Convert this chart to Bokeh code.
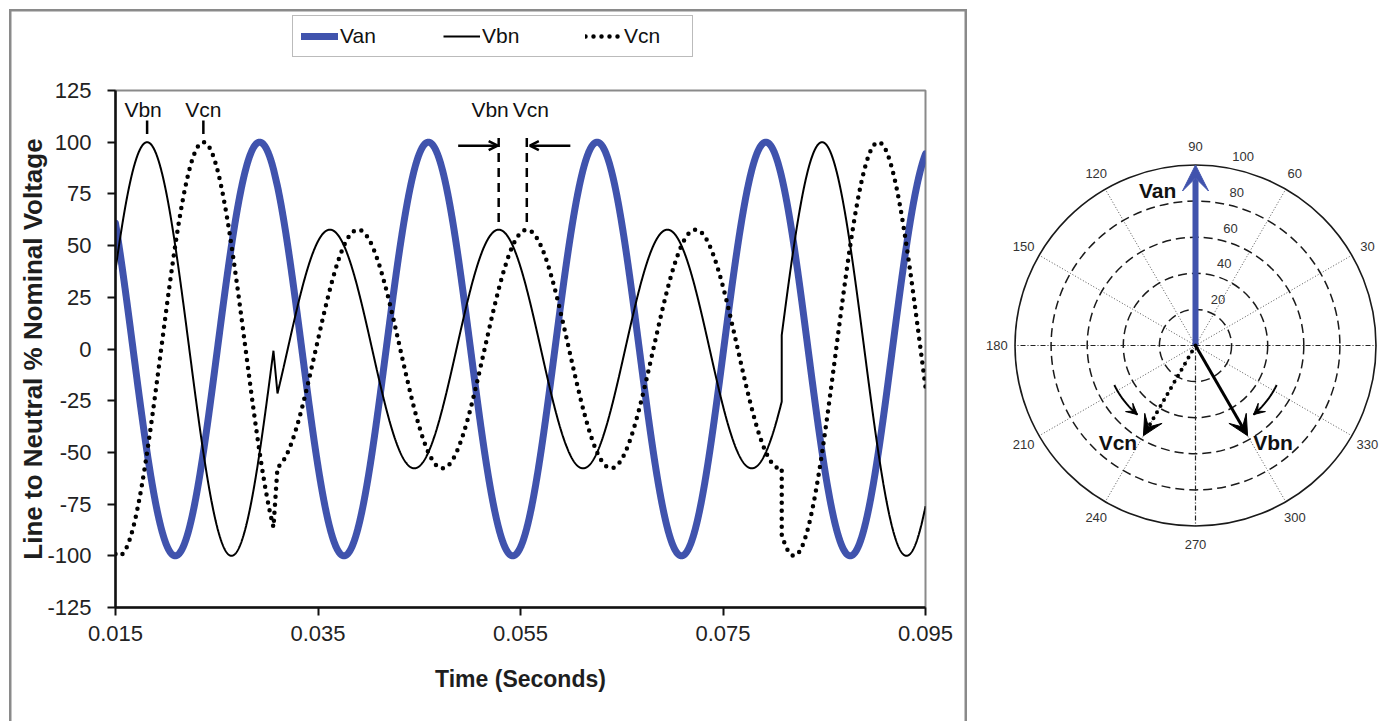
import numpy as np
from bokeh.plotting import figure
from bokeh.layouts import row, column
from bokeh.models import (Range1d, FixedTicker, PrintfTickFormatter, Legend, LegendItem,
                          Arrow, OpenHead, VeeHead)
from bokeh.core.properties import value
from bokeh.embed import file_html
from bokeh.resources import INLINE

# ---------------- data ----------------
phases = ["Van", "Vbn", "Vcn"]
prefault_mag = [100.0, 100.0, 100.0]     # % of nominal
prefault_ang = [90.0, 330.0, 210.0]      # phasor angle, degrees
fault_mag = [100.0, 57.7, 57.7]
fault_ang = [90.0, 300.0, 240.0]
freq_hz = 60.0
angle_ref_time = 0.0334                  # s, instant at which the phasor angles hold
fault_start = 0.0306                     # s, last pre-fault instant
fault_settle = 0.0310                    # s, first instant on the faulted wave
fault_clear = 0.0808                     # s, fault cleared, voltages recover
time_ticks = [0.015, 0.035, 0.055, 0.075, 0.095]
volt_ticks = [-125, -100, -75, -50, -25, 0, 25, 50, 75, 100, 125]
ring_values = [20, 40, 60, 80, 100]
spoke_angles = [0, 30, 60, 90, 120, 150, 180, 210, 240, 270, 300, 330]
angle_labels = [30, 60, 90, 120, 150, 180, 210, 240, 270, 300, 330]

t_min, t_max = 0.015, 0.095
BLUE = "#4053ad"
FONT = "Liberation Sans"


def wave(mag, ang, t):
    return mag * np.cos(2 * np.pi * freq_hz * (t - angle_ref_time) + np.deg2rad(ang))


def phase_series(i):
    t1 = np.linspace(t_min, fault_start, 800)
    t2 = np.linspace(fault_settle, fault_clear, 2500)
    t3 = np.linspace(fault_clear, t_max, 800)
    y1 = wave(prefault_mag[i], prefault_ang[i], t1)
    y2 = wave(fault_mag[i], fault_ang[i], t2)
    y3 = wave(prefault_mag[i], prefault_ang[i], t3)
    return np.concatenate([t1, t2, t3]), np.concatenate([y1, y2, y3])


def peak_after(ang, t0):
    period = 1.0 / freq_hz
    tp = angle_ref_time - ang / 360.0 * period
    while tp < t0:
        tp += period
    while tp - period >= t0:
        tp -= period
    return tp


series = [phase_series(i) for i in range(3)]
line_styles = [dict(line_color=BLUE, line_width=7, line_cap="round", line_join="round"),
               dict(line_color="black", line_width=2),
               dict(line_color="black", line_width=4.5, line_dash="0 8", line_cap="round")]

# ---------------- legend strip above the waveform chart ----------------
lf = figure(width=967, height=60, x_range=Range1d(1, 2), y_range=Range1d(1, 2),
            output_backend="svg", toolbar_location=None, min_border=0,
            x_axis_location=None, y_axis_location=None, frame_align=False)
lf.grid.visible = False
lf.outline_line_color = None
lf.background_fill_color = None
lf.border_fill_color = None
proxies = [lf.line(series[i][0], series[i][1], **line_styles[i]) for i in range(3)]
legend = Legend(items=[LegendItem(label=phases[i], renderers=[proxies[i]]) for i in range(3)],
                orientation="horizontal", location=(292, 3), margin=0, padding=8,
                glyph_width=37, glyph_height=20, label_standoff=2, label_width=60, spacing=43,
                label_text_font=FONT, label_text_font_size="21px", label_text_color="#111111",
                border_line_color="#777777", border_line_width=1.5,
                background_fill_color="white", background_fill_alpha=1.0)
lf.add_layout(legend, "center")

# ---------------- waveform chart ----------------
p = figure(width=967, height=661, x_range=Range1d(t_min, t_max), y_range=Range1d(-125, 125),
           output_backend="svg", toolbar_location=None,
           min_border_left=115, min_border_right=42, min_border_top=30, min_border_bottom=114,
           frame_align=False)
p.background_fill_color = "white"
p.border_fill_color = None
p.outline_line_color = "#8a8a8a"
p.outline_line_width = 2
p.grid.visible = False

p.xaxis.ticker = FixedTicker(ticks=time_ticks)
p.xaxis.formatter = PrintfTickFormatter(format="%.3f")
p.yaxis.ticker = FixedTicker(ticks=volt_ticks)
p.yaxis.formatter = PrintfTickFormatter(format="%d")
for ax in (p.xaxis, p.yaxis):
    ax.axis_line_width = 2.5
    ax.axis_line_color = "#111111"
    ax.major_tick_line_width = 2
    ax.major_tick_line_color = "#111111"
    ax.major_tick_in = 0
    ax.major_tick_out = 8
    ax.minor_tick_line_color = None
    ax.major_label_text_font = FONT
    ax.major_label_text_font_size = "22px"
    ax.major_label_text_color = "#222222"
    ax.axis_label_text_font = FONT
    ax.axis_label_text_font_style = "bold"
    ax.axis_label_text_color = "#1e1e1e"
p.yaxis.major_label_standoff = 16
p.xaxis.major_label_standoff = 10
p.yaxis.axis_label = "Line to Neutral % Nominal Voltage"
p.yaxis.axis_label_text_font_size = "26px"
p.yaxis.axis_label_standoff = -4
p.xaxis.axis_label = "Time (Seconds)"
p.xaxis.axis_label_text_font_size = "23px"
p.xaxis.axis_label_standoff = 22

for i in range(3):
    p.line(series[i][0], series[i][1], **line_styles[i])

TXT = dict(text_font_size="21px", text_font=value(FONT), text_color="#111111",
           text_baseline="middle")

# peak markers before the fault
pb0 = peak_after(prefault_ang[1], t_min)
pc0 = peak_after(prefault_ang[2], t_min)
p.segment(x0=[pb0, pc0], y0=[104, 104], x1=[pb0, pc0], y1=[110.5, 110.5],
          line_color="black", line_width=2.5)
p.text(x=[pb0 - 0.0004, pc0], y=[116, 116], text=[phases[1], phases[2]], text_align="center", **TXT)

# peak markers during the fault
pb1 = peak_after(fault_ang[1], 0.050)
pc1 = peak_after(fault_ang[2], 0.050)
p.segment(x0=[pb1, pc1], y0=[102, 102], x1=[pb1, pc1], y1=[60, 60],
          line_color="black", line_width=2.5, line_dash="9 6")
p.text(x=[pb1 + 0.001], y=[116], text=[phases[1]], text_align="right", **TXT)
p.text(x=[pc1 - 0.0014], y=[116], text=[phases[2]], text_align="left", **TXT)
p.add_layout(Arrow(x_start=pb1 - 0.0040, y_start=98.3, x_end=pb1 - 0.0001, y_end=98.3,
                   line_width=2.5, end=OpenHead(size=9, line_width=2.5)))
p.add_layout(Arrow(x_start=pc1 + 0.0043, y_start=98.3, x_end=pc1 + 0.0003, y_end=98.3,
                   line_width=2.5, end=OpenHead(size=9, line_width=2.5)))

frame_shadow = ("inset 9px 9px 0 0 #ffffff, inset 11.5px 11.5px 0 0 #8a8a8a, "
                "inset -2.5px 0 0 0 #8a8a8a")
left_block = column(lf, p, styles={"box-shadow": frame_shadow})

# ---------------- phasor diagram ----------------
PX = 1.805   # pixels per percent in the phasor diagram
pp = figure(width=416, height=721,
            x_range=Range1d(-228 / PX, 188 / PX), y_range=Range1d(-262 / PX, 255 / PX),
            output_backend="svg", toolbar_location=None,
            min_border_left=0, min_border_right=0, min_border_top=90, min_border_bottom=114,
            x_axis_location=None, y_axis_location=None, frame_align=False)
pp.grid.visible = False
pp.outline_line_color = None
pp.background_fill_color = "white"
pp.border_fill_color = "white"

sa = np.deg2rad(spoke_angles)
main = [a % 90 == 0 for a in spoke_angles]
rmax = ring_values[-1]
pp.segment(x0=[0] * sum(not m for m in main), y0=[0] * sum(not m for m in main),
           x1=[rmax * np.cos(a) for a, m in zip(sa, main) if not m],
           y1=[rmax * np.sin(a) for a, m in zip(sa, main) if not m],
           line_color="#555555", line_width=1, line_dash="1 2")
pp.segment(x0=[0] * sum(main), y0=[0] * sum(main),
           x1=[rmax * np.cos(a) for a, m in zip(sa, main) if m],
           y1=[rmax * np.sin(a) for a, m in zip(sa, main) if m],
           line_color="#222222", line_width=1.2, line_dash="5 2 1 2")
pp.circle(x=[0] * (len(ring_values) - 1), y=[0] * (len(ring_values) - 1), radius=ring_values[:-1],
          fill_color=None, line_color="#1a1a1a", line_width=1.5, line_dash="9 5")
pp.circle(x=[0], y=[0], radius=[rmax], fill_color=None, line_color="#1a1a1a", line_width=1.6)

la = np.deg2rad(angle_labels)
pp.text(x=list(1.10 * rmax * np.cos(la)), y=list(1.10 * rmax * np.sin(la)),
        text=[str(a) for a in angle_labels], text_align="center", text_baseline="middle",
        text_font_size="13px", text_font=value(FONT), text_color="#333333")
ra = np.deg2rad(80)
pp.text(x=[v * np.cos(ra) + 9 for v in ring_values], y=[v * np.sin(ra) + 6 for v in ring_values],
        text=[str(v) for v in ring_values], text_align="center", text_baseline="middle",
        text_font_size="13px", text_font=value(FONT), text_color="#333333")

# phasors (faulted condition)
styles = [dict(line_color=BLUE, line_width=6),
          dict(line_color="black", line_width=3),
          dict(line_color="black", line_width=4, line_dash="0 7", line_cap="round")]
heads = [VeeHead(size=26, fill_color=BLUE, line_color=BLUE),
         VeeHead(size=20, fill_color="black", line_color="black"),
         VeeHead(size=20, fill_color="black", line_color="black")]
for i in range(3):
    ang = np.deg2rad(fault_ang[i])
    pp.add_layout(Arrow(x_start=0, y_start=0, x_end=fault_mag[i] * np.cos(ang),
                        y_end=fault_mag[i] * np.sin(ang), end=heads[i], **styles[i]))

pp.text(x=[-21, -43, 43], y=[86, -54, -54], text=[phases[0], phases[2], phases[1]],
        text_align="center", text_baseline="middle", text_font_size="21px",
        text_font=value(FONT), text_font_style="bold", text_color="#111111")

# rotation hooks: from pre-fault angle toward faulted angle
for i in (1, 2):
    s = np.sign(fault_ang[i] - prefault_ang[i])
    a0 = prefault_ang[i] - 4 * s
    a1 = fault_ang[i] - 10 * s
    th = np.deg2rad(np.linspace(a0, a1, 40))
    pp.line(x=50 * np.cos(th), y=50 * np.sin(th), line_color="black", line_width=2)
    pp.add_layout(Arrow(x_start=50 * np.cos(th[-4]), y_start=50 * np.sin(th[-4]),
                        x_end=50 * np.cos(th[-1]), y_end=50 * np.sin(th[-1]),
                        line_width=2, end=VeeHead(size=11, fill_color="black", line_color="black")))

layout = row(left_block, pp)
open("out.html", "w").write(file_html(layout, INLINE))
